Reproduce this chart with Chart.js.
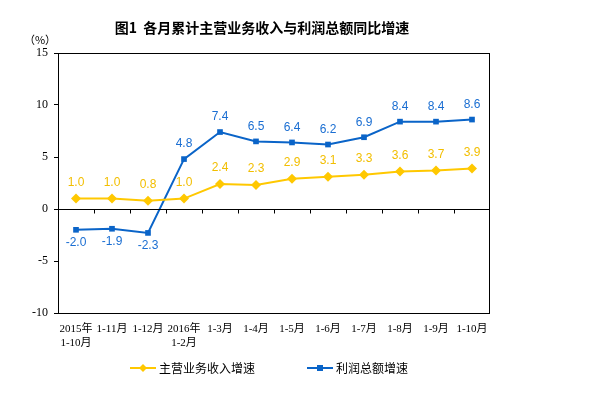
<!DOCTYPE html>
<html><head><meta charset="utf-8">
<script src="https://cdn.jsdelivr.net/npm/chart.js@4/dist/chart.umd.min.js"></script>
<style>html,body{margin:0;padding:0;background:#fff;}#wrap{width:605px;height:399px;position:relative;}</style>
</head><body><div id="wrap"><canvas id="c" width="605" height="399"></canvas></div>
<script>
const categories = [["2015年","1-10月"],"1-11月","1-12月",["2016年","1-2月"],"1-3月","1-4月","1-5月","1-6月","1-7月","1-8月","1-9月","1-10月"];
const revenueGrowth = [1.0,1.0,0.8,1.0,2.4,2.3,2.9,3.1,3.3,3.6,3.7,3.9];
const profitGrowth = [-2.0,-1.9,-2.3,4.8,7.4,6.5,6.4,6.2,6.9,8.4,8.4,8.6];
const seriesNames = ["主营业务收入增速","利润总额增速"];
const titleText = "图1  各月累计主营业务收入与利润总额同比增速";
const unitText = "（%）";

const YELLOW = "#FFC800", YELLOW_LBL = "#F2BE00";
const BLUE = "#0A64C8", BLUE_LBL = "#1A6ED2";

const overlay = {
  id: 'overlay',
  afterDatasetsDraw(chart) {
    const ctx = chart.ctx, a = chart.chartArea;
    const x = chart.scales.x, y = chart.scales.y;
    ctx.save();
    // frame
    ctx.strokeStyle = '#000'; ctx.lineWidth = 1;
    ctx.strokeRect(Math.round(a.left)+0.5, Math.round(a.top)+0.5, Math.round(a.right-a.left)-1, Math.round(a.bottom-a.top));
    // zero line + ticks
    const y0 = Math.round(y.getPixelForValue(0)) + 0.5;
    ctx.beginPath(); ctx.moveTo(a.left, y0); ctx.lineTo(a.right, y0);
    const n = categories.length, w = (a.right - a.left) / n;
    for (let i = 1; i < n; i++) {
      const xx = Math.round(a.left + i * w) + 0.5;
      ctx.moveTo(xx, y0); ctx.lineTo(xx, y0 + 4);
    }
    ctx.stroke();
    // data labels
    ctx.font = '12px "Liberation Sans", Arial, sans-serif';
    ctx.textAlign = 'center'; ctx.textBaseline = 'middle';
    const m0 = chart.getDatasetMeta(0), m1 = chart.getDatasetMeta(1);
    m0.data.forEach((p, i) => {
      ctx.fillStyle = YELLOW_LBL;
      ctx.fillText(revenueGrowth[i].toFixed(1), p.x, p.y - 16);
    });
    m1.data.forEach((p, i) => {
      ctx.fillStyle = BLUE_LBL;
      const v = profitGrowth[i];
      ctx.fillText(v.toFixed(1), p.x, v < 0 ? p.y + 13 : p.y - 15);
    });
    // title
    ctx.fillStyle = '#000';
    ctx.font = 'bold 14px "Noto Sans CJK SC", sans-serif';
    ctx.fillText(titleText, 262, 28);
    // unit
    ctx.font = '11px "Noto Sans CJK SC", sans-serif';
    ctx.fillText(unitText, 40, 40);
    // legend
    const items = [
      {x: 130, label: seriesNames[0], color: YELLOW, style: 'diamond'},
      {x: 307, label: seriesNames[1], color: BLUE, style: 'square'}
    ];
    const ly = 368;
    items.forEach(it => {
      ctx.strokeStyle = it.color; ctx.fillStyle = it.color; ctx.lineWidth = 2;
      ctx.beginPath(); ctx.moveTo(it.x, ly); ctx.lineTo(it.x + 26, ly); ctx.stroke();
      const cx = it.x + 13;
      if (it.style === 'diamond') {
        ctx.beginPath(); ctx.moveTo(cx, ly-4); ctx.lineTo(cx+4, ly); ctx.lineTo(cx, ly+4); ctx.lineTo(cx-4, ly); ctx.closePath(); ctx.fill();
      } else {
        ctx.fillRect(cx-3, ly-3, 6, 6);
      }
      ctx.fillStyle = '#000';
      ctx.textAlign = 'left';
      ctx.font = '12px "Noto Sans CJK SC", sans-serif';
      ctx.fillText(it.label, it.x + 29, ly);
    });
    ctx.restore();
  }
};

new Chart(document.getElementById('c'), {
  type: 'line',
  data: {
    labels: categories,
    datasets: [
      {label: seriesNames[0], data: revenueGrowth, borderColor: YELLOW, backgroundColor: YELLOW, borderWidth: 2,
       pointStyle: 'rectRot', pointRadius: 5, pointBorderWidth: 0, tension: 0},
      {label: seriesNames[1], data: profitGrowth, borderColor: BLUE, backgroundColor: BLUE, borderWidth: 2,
       pointStyle: 'rect', pointRadius: 4, pointBorderWidth: 0, tension: 0}
    ]
  },
  options: {
    responsive: false, animation: false, devicePixelRatio: 1,
    layout: {padding: {left: 0, right: 115, top: 53, bottom: 0}},
    plugins: {legend: {display: false}, tooltip: {enabled: false}, title: {display: false}},
    scales: {
      x: {
        offset: true,
        grid: {display: false, drawTicks: false},
        border: {display: false},
        ticks: {color: '#000', padding: 10, maxRotation: 0, autoSkip: false,
                font: {family: '"Liberation Serif", "Noto Sans CJK SC", serif', size: 11}},
        afterFit(s) { s.height = 86; }
      },
      y: {
        min: -10, max: 15,
        grid: {display: true, drawOnChartArea: false, drawTicks: true, tickLength: 4, color: '#000'},
        border: {display: false},
        ticks: {stepSize: 5, color: '#000', padding: 6,
                font: {family: '"Liberation Serif", serif', size: 12}},
        afterFit(s) { s.width = 58; }
      }
    }
  },
  plugins: [overlay]
});
</script></body></html>
